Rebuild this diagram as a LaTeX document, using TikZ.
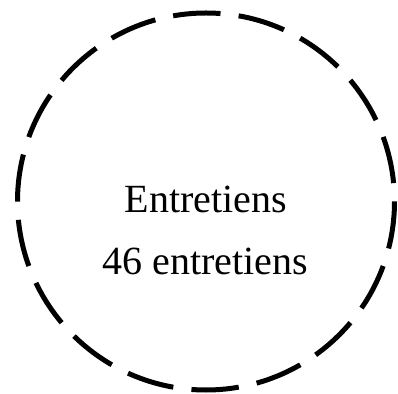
\documentclass[tikz,border=0pt]{standalone}
\usepackage{fontspec}
\setmainfont{Liberation Serif}
\begin{document}
\begin{tikzpicture}[x=1pt,y=1pt,
  ring/.style={line width=5pt, dash pattern=on 47.5pt off 18.3pt, line cap=butt},
  label/.style={anchor=base, font=\fontsize{40}{48}\selectfont, inner sep=0pt}]
\useasboundingbox (0,0) rectangle (398,393);
\coordinate (c) at (206,191.5);
\draw[ring] (c) ++(188.5,0) arc[start angle=0, end angle=-360, radius=188.5];
\node[label] (t1) at (206,180) {Entretiens};
\node[label] (t2) at (205,118) {46 entretiens};
\end{tikzpicture}
\end{document}
